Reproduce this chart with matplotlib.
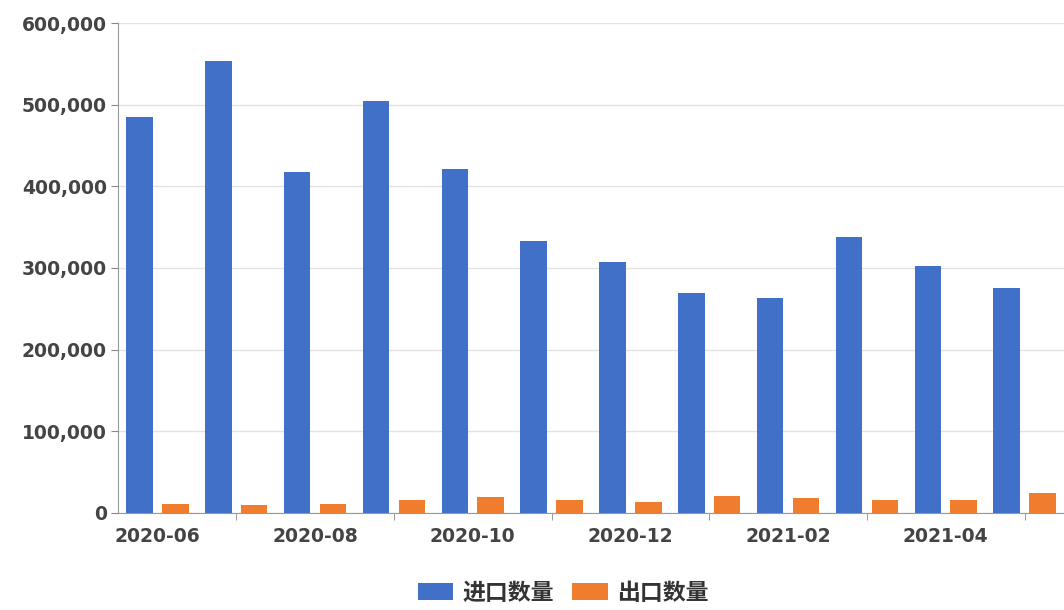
import numpy as np
import matplotlib.pyplot as plt
from matplotlib.patches import Patch
from matplotlib.ticker import FuncFormatter

plt.rcParams['font.family'] = ['DejaVu Sans', 'Noto Sans CJK SC']

months = ["2020-06", "2020-07", "2020-08", "2020-09", "2020-10", "2020-11",
          "2020-12", "2021-01", "2021-02", "2021-03", "2021-04", "2021-05"]
imports = [485000, 554000, 418000, 505000, 421000, 333000,
           307000, 270000, 263000, 338000, 303000, 276000]
exports = [11500, 9800, 11500, 15900, 19000, 15900,
           13500, 21000, 18400, 15900, 15900, 25000]
series_names = ["进口数量", "出口数量"]

blue = "#4170c8"
orange = "#ef7d2d"

fig = plt.figure(figsize=(10.64, 6.10), dpi=100)
ax = fig.add_axes([118 / 1064, 97 / 610, 946 / 1064, 490 / 610])

x = np.arange(len(months))
w = 0.335
off = 0.227
ax.bar(x - off, imports, w, color=blue, zorder=3)
ax.bar(x + off, exports, w, color=orange, zorder=3)

ax.set_xlim(-0.5, len(months) - 0.5)
ax.set_ylim(0, 600000)
ax.set_yticks(np.arange(0, 600001, 100000))
ax.yaxis.set_major_formatter(FuncFormatter(lambda v, p: f"{int(v):,}"))
ax.grid(axis="y", color="#e3e3e3", lw=1, zorder=0)

# labels every other month, ticks on the months in between
ax.set_xticks(x[::2])
ax.set_xticklabels(months[::2])
ax.set_xticks(x[1::2], minor=True)
ax.tick_params(axis="x", which="major", length=0, pad=10)
ax.tick_params(axis="x", which="minor", length=5, color="#888888")
ax.tick_params(axis="y", length=5, color="#888888", pad=3)
for lab in ax.get_xticklabels() + ax.get_yticklabels():
    lab.set_fontsize(13.5)
    lab.set_fontweight("bold")
    lab.set_color("#444444")

for s in ["top", "right"]:
    ax.spines[s].set_visible(False)
for s in ["left", "bottom"]:
    ax.spines[s].set_color("#999999")

handles = [Patch(facecolor=blue, edgecolor="none"), Patch(facecolor=orange, edgecolor="none")]
fig.legend(handles, series_names, loc="center", bbox_to_anchor=(563 / 1064, 1 - 593 / 610),
           ncol=2, frameon=False, prop={"family": ["Noto Sans CJK SC"], "size": 16.5, "weight": "bold"},
           handlelength=1.55, handleheight=0.75, handletextpad=0.4, columnspacing=0.8,
           labelcolor="#333333")

fig.savefig("out.png", dpi=100)
